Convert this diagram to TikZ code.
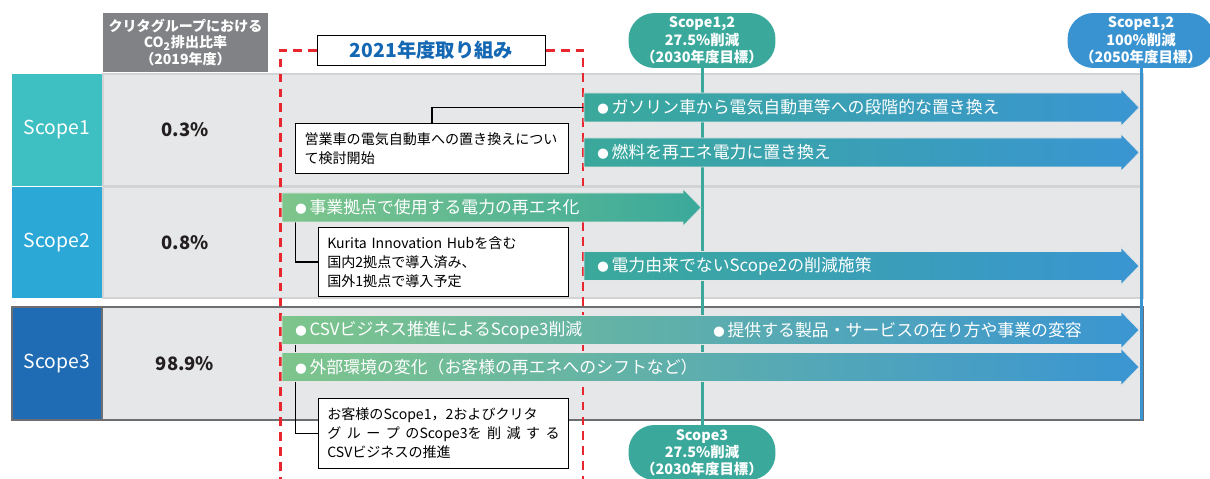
\documentclass[tikz,border=0pt]{standalone}
\usepackage{fontspec}
\setmainfont{Noto Sans CJK JP}
\usetikzlibrary{positioning,calc}
\usepackage{xcolor}

\definecolor{scopeone}{HTML}{3EBFC1}
\definecolor{scopetwo}{HTML}{2BA8D6}
\definecolor{scopethree}{HTML}{1F6CB4}
\definecolor{headgray}{HTML}{818285}
\definecolor{rowgray}{HTML}{E6E7E8}
\definecolor{rowline}{HTML}{D1D3D4}
\definecolor{rowedge}{HTML}{6D6E71}
\definecolor{goalteal}{HTML}{3AA99B}
\definecolor{goalblue}{HTML}{3A93D1}
\definecolor{arrowgreen}{HTML}{7EC58B}
\definecolor{arrowteal}{HTML}{3AA99B}
\definecolor{arrowblue}{HTML}{3A95D2}
\definecolor{planred}{HTML}{E8262D}
\definecolor{planblue}{HTML}{1467B3}
\definecolor{darktext}{HTML}{231F20}

\begin{document}
\begin{tikzpicture}[x=0.02cm,y=-0.02cm,
    scopebox/.style={text=white,minimum width=1.8cm,inner sep=0pt,font=\fontsize{11}{13}\selectfont},
    band/.style={fill=rowgray,draw=rowline,line width=0.8pt,minimum width=20.8cm,inner sep=0pt},
    share/.style={text=darktext,font=\fontsize{10.5}{12}\selectfont\bfseries},
    headbox/.style={fill=headgray,text=white,minimum width=3.3cm,minimum height=1.18cm,inner sep=0pt,align=center,font=\fontsize{8}{9.4}\selectfont\bfseries},
    planbox/.style={draw=black,fill=white,line width=0.7pt,minimum width=4.55cm,minimum height=0.6cm,text=planblue,font=\fontsize{11}{13}\selectfont\bfseries},
    goal/.style={rounded corners=0.52cm,text=white,minimum width=2.94cm,minimum height=1.1cm,inner sep=0pt,align=center,font=\fontsize{8.2}{9.8}\selectfont\bfseries},
    measure/.style={anchor=west,inner sep=0pt,text=white,font=\fontsize{9.6}{11}\selectfont},
    memo/.style={draw=black,fill=white,line width=0.6pt,anchor=north west,align=left,inner xsep=5pt,inner ysep=0pt,font=\fontsize{8}{10.8}\selectfont},
    leader/.style={draw=black,line width=0.6pt},
    dashline/.style={planred,line width=1.3pt,dash pattern=on 5pt off 3.5pt},
    bararrow/.style={draw=white!80!gray,line width=0.3pt}
  ]
    \useasboundingbox (0,0) rectangle (1210,479);

    % Header of the share column
    \node[headbox] (head) at (185.5,42.5) {クリタグループにおける\\CO\textsubscript{2}排出比率\\（2019年度）};

    % Rows: Scope1, Scope2, Scope3
    \node[band,minimum height=2.24cm] (band1) at (623,130) {};
    \node[band,minimum height=2.22cm] (band2) at (623,242.5) {};
    \node[band,draw=rowedge,line width=1.1pt,minimum width=22.62cm,minimum height=2.26cm] (band3) at (577.5,363.5) {};
    \node[scopebox,fill=scopeone,minimum height=2.24cm] (scope1) at (57,130) {Scope1};
    \node[scopebox,fill=scopetwo,minimum height=2.22cm] (scope2) at (57,242.5) {Scope2};
    \node[scopebox,fill=scopethree,draw=rowedge,line width=1.1pt,minimum height=2.26cm] (scope3) at (57,363.5) {Scope3};
    \node[share] (share1) at (185,130) {0.3\%};
    \node[share] (share2) at (185,243) {0.8\%};
    \node[share] (share3) at (185,363.5) {98.9\%};

    % Milestones
    \node[goal,fill=goalteal] (goal30) at (702,40.5) {Scope1,2\\27.5\%削減\\（2030年度目標）};
    \node[goal,fill=goalteal] (goal30s3) at (702,452.5) {Scope3\\27.5\%削減\\（2030年度目標）};
    \node[goal,fill=goalblue] (goal50) at (1141,40.5) {Scope1,2\\100\%削減\\（2050年度目標）};
    \coordinate (blueFoot) at (1141,420);
    \draw[goalteal,line width=1.7pt] (goal30.south) -- (goal30s3.north);
    \draw[goalblue,line width=1.7pt] (goal50.south) -- (blueFoot);

    % 2021 frame
    \node[planbox] (plan) at (431.5,50.5) {2021年度取り組み};
    \coordinate (dashBL) at (280.5,485);
    \coordinate (dashBR) at (583,485);
    \draw[dashline] (plan.west) -| (dashBL);
    \draw[dashline] (plan.east) -| (dashBR);

    % Leader anchors
    \coordinate (gasTail) at (584,107.5);
    \coordinate (renewFoot) at (295.5,222);
    \coordinate (csvFoot) at (295.5,344.5);

    % Notes
    \node[memo,minimum width=5.46cm,minimum height=1cm,text width=5.1cm] (memoCar) at (295,123) {営業車の電気自動車への置き換えについ\\て検討開始};
    \node[memo,minimum width=5cm,minimum height=1.38cm,text width=4.65cm] (memoHub) at (318,227) {Kurita Innovation Hubを含む\\国内2拠点で導入済み、\\国外1拠点で導入予定};
    \node[memo,minimum width=5cm,minimum height=1.4cm,text width=4.65cm] (memoCsv) at (318,398) {お客様のScope1，2およびクリタ\\\makebox[4.65cm][s]{グ\hfill ル\hfill ー\hfill プ\hfill のScope3を\hfill 削\hfill 減\hfill す\hfill る}\\CSVビジネスの推進};
    \draw[leader] (memoCar.north) |- (gasTail);
    \draw[leader] (renewFoot) |- (memoHub.west);
    \draw[leader] (csvFoot) |- (memoCsv.west);

    % Measures (arrows)
    \path[bararrow,left color=arrowteal,right color=arrowblue] (584,93) -- (1121,93) -- (1121,89) -- (1139,107.5) -- (1121,126) -- (1121,122) -- (584,122) -- cycle;
    \path[bararrow,left color=arrowteal,right color=arrowblue] (584,138) -- (1121,138) -- (1121,134) -- (1139,152.5) -- (1121,171) -- (1121,167) -- (584,167) -- cycle;
    \path[bararrow,left color=arrowgreen,right color=arrowteal] (282,193) -- (683,193) -- (683,189) -- (701,207.5) -- (683,226) -- (683,222) -- (282,222) -- cycle;
    \path[bararrow,left color=arrowteal,right color=arrowblue] (584,251.5) -- (1121,251.5) -- (1121,247.5) -- (1139,266) -- (1121,284.5) -- (1121,280.5) -- (584,280.5) -- cycle;
    \path[bararrow,left color=arrowgreen,middle color=arrowteal,right color=arrowblue] (282,315.5) -- (1121,315.5) -- (1121,311.5) -- (1139,330) -- (1121,348.5) -- (1121,344.5) -- (282,344.5) -- cycle;
    \path[bararrow,left color=arrowgreen,middle color=arrowteal,right color=arrowblue] (282,352.5) -- (1121,352.5) -- (1121,348.5) -- (1139,367) -- (1121,385.5) -- (1121,381.5) -- (282,381.5) -- cycle;
    \node[measure] (gasT) at (597,107.5) {{\fontsize{6.5}{7}\selectfont ●}\,ガソリン車から電気自動車等への段階的な置き換え};
    \node[measure] (fuelT) at (597,152.5) {{\fontsize{6.5}{7}\selectfont ●}\,燃料を再エネ電力に置き換え};
    \node[measure] (renewT) at (295,207.5) {{\fontsize{6.5}{7}\selectfont ●}\,事業拠点で使用する電力の再エネ化};
    \node[measure] (otherT) at (597,266) {{\fontsize{6.5}{7}\selectfont ●}\,電力由来でないScope2の削減施策};
    \node[measure] (csvT) at (295,330) {{\fontsize{6.5}{7}\selectfont ●}\,CSVビジネス推進によるScope3削減};
    \node[measure] (shiftT) at (713,330) {{\fontsize{6.5}{7}\selectfont ●}\,提供する製品・サービスの在り方や事業の変容};
    \node[measure] (extT) at (295,367) {{\fontsize{6.5}{7}\selectfont ●}\,外部環境の変化（お客様の再エネへのシフトなど）};
  \end{tikzpicture}
\end{document}
